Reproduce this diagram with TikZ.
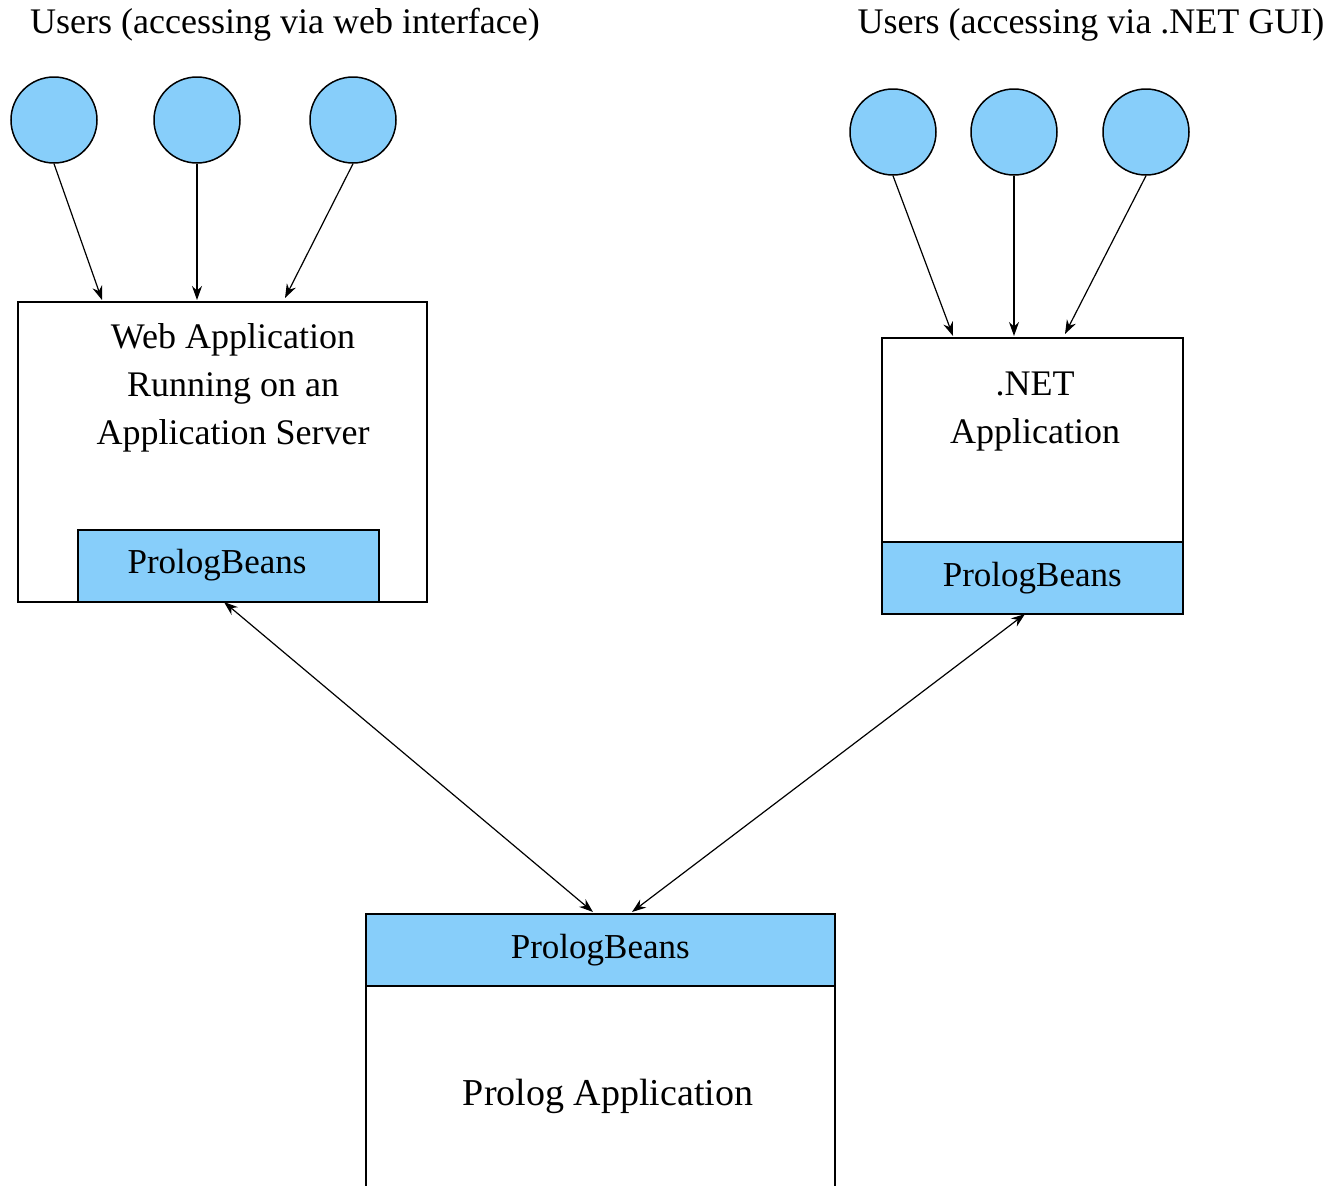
\documentclass[tikz,border=0pt]{standalone}
\usepackage{fontspec}
\setmainfont{Liberation Serif}
\usetikzlibrary{arrows.meta,calc}
\definecolor{lsb}{HTML}{87CEFA}
\begin{document}
\begin{tikzpicture}[x=1pt,y=-1pt,
  user/.style={circle,draw,fill=lsb,line width=1.5pt,minimum size=86pt,inner sep=0pt},
  boxw/.style={rectangle,draw,line width=1.6pt,anchor=north west,inner sep=0pt},
  band/.style={rectangle,draw,fill=lsb,line width=1.6pt,anchor=north west,inner sep=0pt,font=\fontsize{35}{40}\selectfont},
  lbl/.style={font=\fontsize{36}{48}\selectfont,align=center,inner sep=0pt},
  edge/.style={line width=1.2pt,-{Stealth[length=14pt,width=10pt]}},
  bedge/.style={line width=1.2pt,{Stealth[length=14pt,width=10pt]}-{Stealth[length=14pt,width=10pt]}}]
\useasboundingbox (0,0) rectangle (1342,1186);
\clip (0,0) rectangle (1342,1186);
% titles
\node[lbl] (t1) at (285,25) {Users (accessing via web interface)};
\node[lbl] (t2) at (1091,25) {Users (accessing via .NET GUI)};
% users
\node[user] (w1) at (54,120) {};
\node[user] (w2) at (197,120) {};
\node[user] (w3) at (353,120) {};
\node[user] (n1) at (893,132) {};
\node[user] (n2) at (1014,132) {};
\node[user] (n3) at (1146,132) {};
% web box
\node[boxw,minimum width=409pt,minimum height=300pt] (web) at (17,301) {};
\node[band,minimum width=301pt,minimum height=72pt] (webpb) at (77,529) {};
\node[inner sep=0pt,font=\fontsize{35}{40}\selectfont] (webpbtxt) at (217,565) {PrologBeans};
\node[lbl] (webtxt) at (233,388) {Web Application\\Running on an\\Application Server};
% .NET box
\node[boxw,minimum width=301pt,minimum height=276pt] (net) at (881,337) {};
\node[band,minimum width=301pt,minimum height=72pt] (netpb) at (881,541) {PrologBeans};
\node[lbl] (nettxt) at (1035,412) {.NET\\Application};
% Prolog box
\node[boxw,minimum width=469pt,minimum height=300pt] (pro) at (365,913) {};
\node[band,minimum width=469pt,minimum height=72pt] (propb) at (365,913) {PrologBeans};
\node[lbl,font=\fontsize{38}{48}\selectfont] (protxt) at (608,1096) {Prolog Application};
% arrow targets
\coordinate (wa1) at (102,300);
\coordinate (wa2) at (197,300);
\coordinate (wa3) at (285,298);
\coordinate (na1) at (953,336);
\coordinate (na2) at (1014,336);
\coordinate (na3) at (1065,334);
\coordinate (wb) at (224,602);
\coordinate (nb) at (1025,614);
\coordinate (pb1) at (593,912);
\coordinate (pb2) at (632,912);
\draw[edge] (w1.south) -- (wa1);
\draw[edge] (w2.south) -- (wa2);
\draw[edge] (w3.south) -- (wa3);
\draw[edge] (n1.south) -- (na1);
\draw[edge] (n2.south) -- (na2);
\draw[edge] (n3.south) -- (na3);
\draw[bedge] (wb) -- (pb1);
\draw[bedge] (nb) -- (pb2);
\end{tikzpicture}
\end{document}
